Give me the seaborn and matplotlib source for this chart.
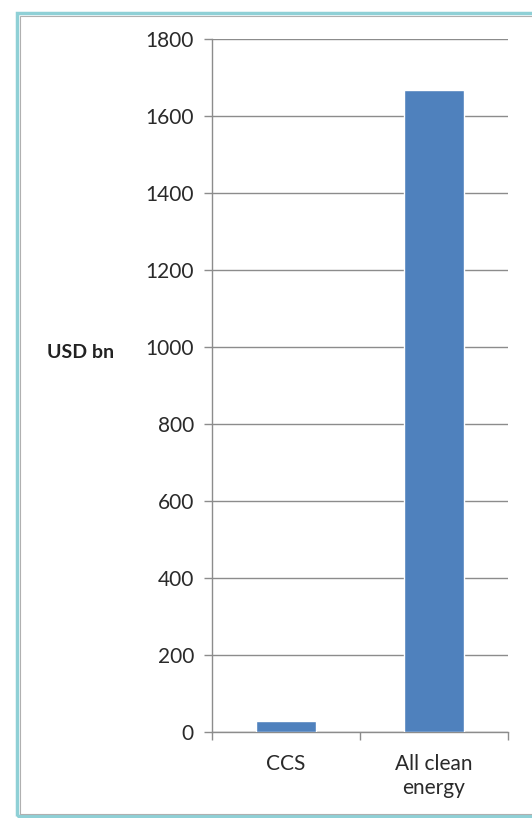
import matplotlib
matplotlib.use("Agg")
import matplotlib.pyplot as plt
import seaborn as sns
import pandas as pd
from matplotlib.patches import Rectangle

categories = ["CCS", "All clean\nenergy"]
values = [29, 1667]
yticks = [0, 200, 400, 600, 800, 1000, 1200, 1400, 1600, 1800]

sns.set_theme(style="white")
plt.rcParams['font.family'] = ['Lato', 'DejaVu Sans']

df = pd.DataFrame({"cat": categories, "val": values})

fig = plt.figure(figsize=(5.32, 8.18), dpi=100)
fig.patch.set_facecolor("white")
ax = fig.add_axes([212/532, 1-732/818, 296/532, 693/818])

sns.barplot(data=df, x="cat", y="val", color="#4F81BD", saturation=1, width=0.4, ax=ax, zorder=3)

ax.set_ylim(0, 1800)
ax.set_xlim(-0.5, 1.5)
ax.set_yticks(yticks)
ax.set_yticklabels([str(t) for t in yticks], fontsize=15, color="#2a2a2a")
ax.yaxis.grid(True, color="#8c8c8c", linewidth=1)
ax.set_axisbelow(True)
ax.tick_params(axis="y", length=6, width=1, color="#8c8c8c", left=True, pad=7)
ax.set_xticks([0, 1])
ax.set_xticklabels(categories, fontsize=15, color="#2a2a2a", linespacing=1.25)
ax.set_xticks([-0.5, 0.5, 1.5], minor=True)
ax.tick_params(axis="x", which="major", length=0, pad=16)
ax.tick_params(axis="x", which="minor", length=6, width=1, color="#8c8c8c", bottom=True)
for s in ["top", "right"]:
    ax.spines[s].set_visible(False)
for s in ["left", "bottom"]:
    ax.spines[s].set_color("#8c8c8c")
    ax.spines[s].set_linewidth(1)

ax.set_xlabel("")
ax.set_ylabel("USD bn", rotation=0, fontsize=14, fontweight="bold", color="#222222")
ax.yaxis.set_label_coords(-0.443, 0.548)
ax.yaxis.label.set_ha("center")
ax.yaxis.label.set_va("center")

# frame (extends past the right edge as in the reference)
fig.patches.append(Rectangle((17/532, 1-816/818), (560-17)/532, (816-13)/818,
                             transform=fig.transFigure, fill=False,
                             edgecolor="#8fd0d6", linewidth=2.5, zorder=0))
fig.patches.append(Rectangle((19.5/532, 1-813.5/818), (560-19.5)/532, (813.5-15.5)/818,
                             transform=fig.transFigure, fill=False,
                             edgecolor="#b0b0b0", linewidth=0.8, zorder=0))

fig.savefig("out.png", dpi=100)
